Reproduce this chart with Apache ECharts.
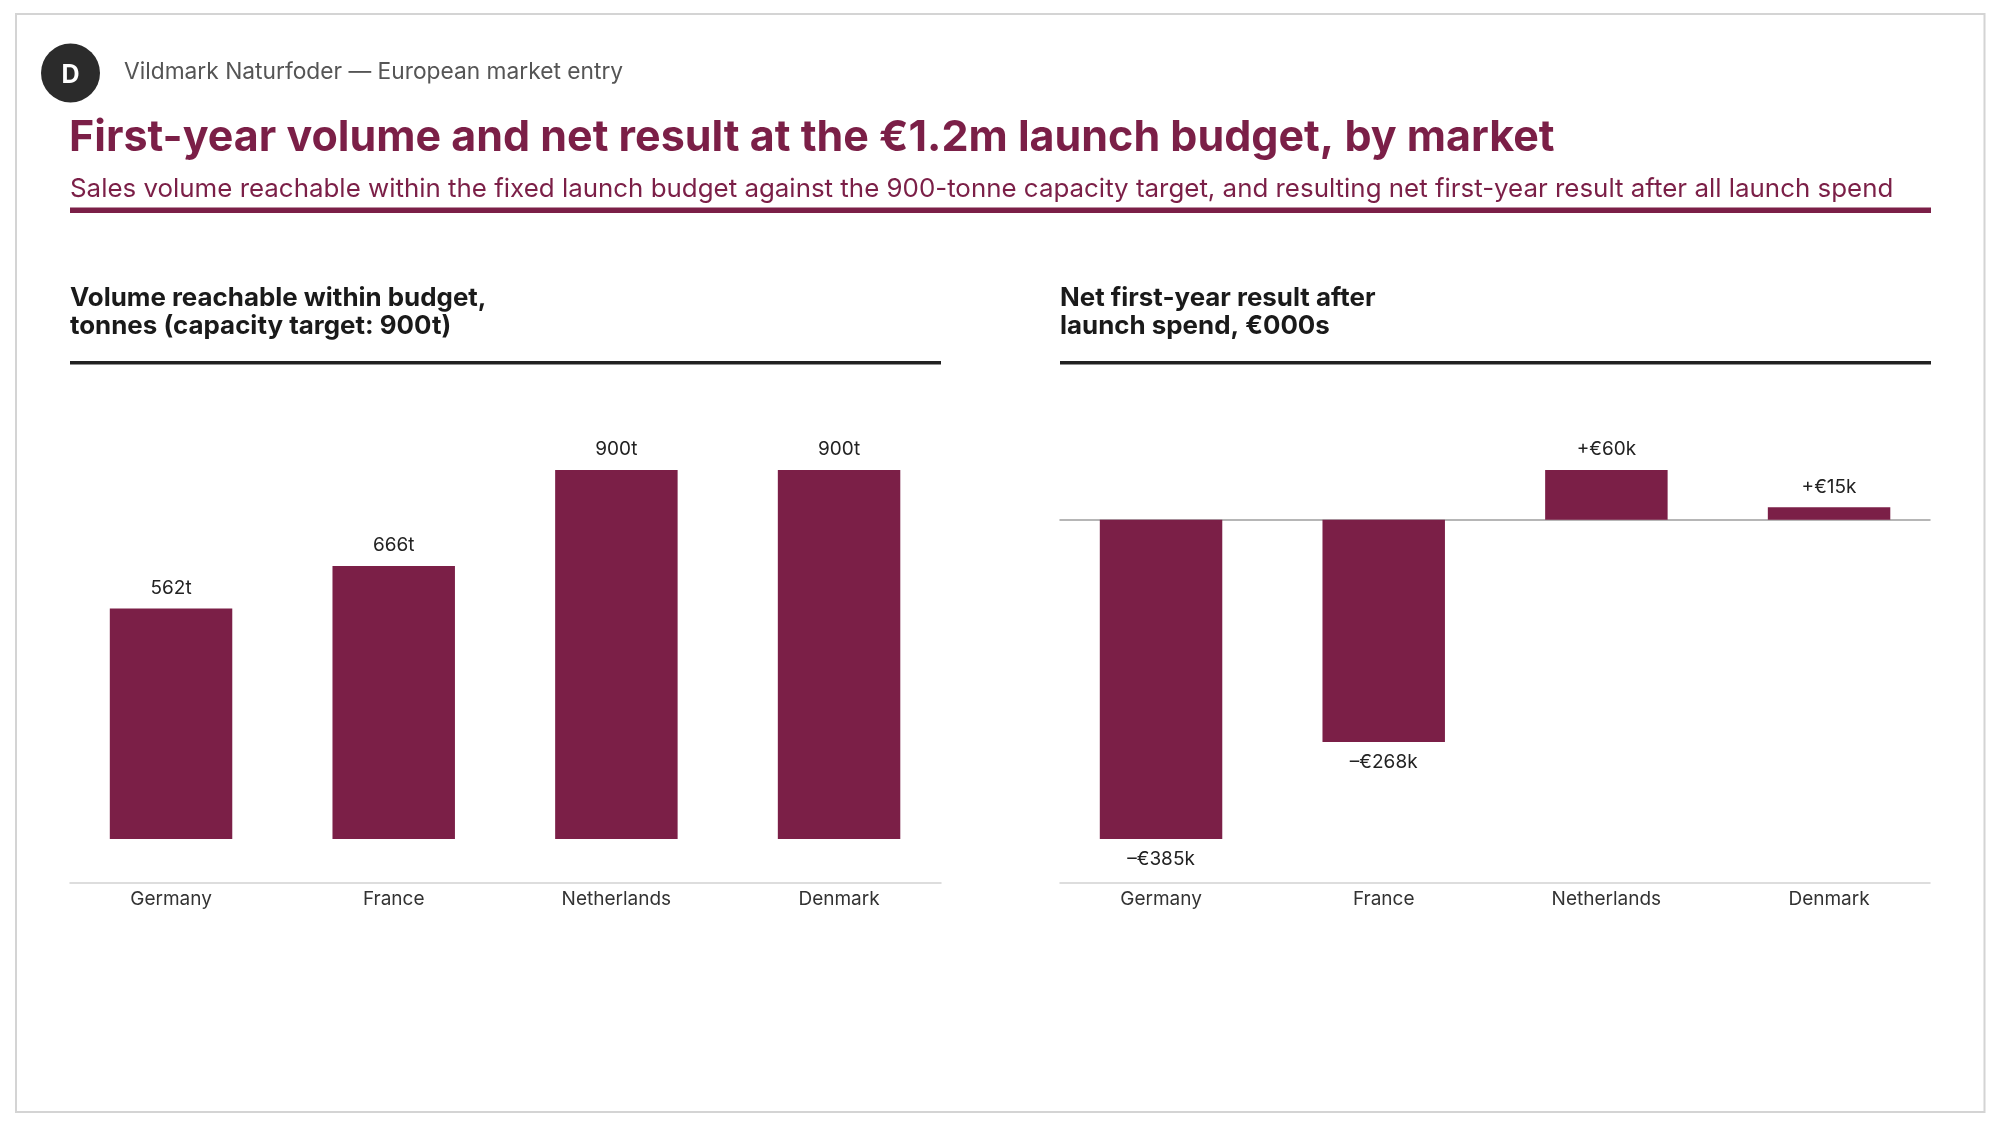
<!DOCTYPE html>
<html><head><meta charset="utf-8">
<script src="https://cdn.jsdelivr.net/npm/echarts@6/dist/echarts.min.js"></script>
<style>html,body{margin:0;padding:0;background:#fff}#c{width:1999px;height:1125px}</style>
</head><body><div id="c"></div>
<script>
const markets = ['Germany', 'France', 'Netherlands', 'Denmark'];
const volumeTonnes = [562, 666, 900, 900];
const netResultK = [-385, -268, 60, 15];

const FONT = 'Inter, "Noto Sans", sans-serif';
const MAROON = '#7b1f47';
const chart = echarts.init(document.getElementById('c'), null, {renderer: 'canvas'});

function fmtEuro(v) {
  return (v < 0 ? '\u2013' : '+') + '\u20ac' + Math.abs(v) + 'k';
}

const gridTop = 470, gridH = 369;
const netMin = Math.min(...netResultK), netMax = Math.max(...netResultK);
const volMax = Math.max(...volumeTonnes);

const labelAxis = (gi) => ({
  type: 'category', gridIndex: gi, data: markets, offset: 44,
  axisLine: {show: false}, axisTick: {show: false}, splitLine: {show: false},
  axisLabel: {fontFamily: FONT, fontSize: 19, color: '#333', margin: 6.5}
});
const lineAxis = (gi) => ({
  type: 'category', gridIndex: gi, data: markets, offset: 44,
  axisLine: {show: true, onZero: false, lineStyle: {color: '#d2d2d2', width: 1.5}},
  axisTick: {show: false}, axisLabel: {show: false}, splitLine: {show: false}
});

const option = {
  backgroundColor: '#ffffff',
  animation: false,
  grid: [
    {left: 59.7, width: 890.7, top: gridTop, height: gridH},
    {left: 1049.7, width: 890.7, top: gridTop, height: gridH},
    {left: 70, width: 871, top: gridTop, height: gridH},
    {left: 1060, width: 870, top: gridTop, height: gridH}
  ],
  xAxis: [
    labelAxis(0),
    labelAxis(1),
    lineAxis(2),
    lineAxis(3),
    {type: 'category', gridIndex: 3, data: markets, position: 'top',
     axisLine: {show: true, onZero: true, lineStyle: {color: '#9e9e9e', width: 1.5}},
     axisTick: {show: false}, axisLabel: {show: false}, splitLine: {show: false}}
  ],
  yAxis: [
    {type: 'value', gridIndex: 0, min: 0, max: volMax, show: false},
    {type: 'value', gridIndex: 1, min: netMin, max: netMax, show: false},
    {type: 'value', gridIndex: 2, min: 0, max: volMax, show: false},
    {type: 'value', gridIndex: 3, min: netMin, max: netMax, show: false}
  ],
  series: [
    {
      type: 'bar', xAxisIndex: 0, yAxisIndex: 0, data: volumeTonnes,
      barWidth: '55%', itemStyle: {color: MAROON},
      label: {show: true, position: 'top', distance: 11, fontFamily: FONT, fontSize: 19, color: '#222',
        formatter: p => p.value + 't'}
    },
    {
      type: 'bar', xAxisIndex: 1, yAxisIndex: 1,
      data: netResultK.map(v => ({value: v, label: {position: v < 0 ? 'bottom' : 'top', distance: v < 0 ? 11 : 11}})),
      barWidth: '55%', itemStyle: {color: MAROON},
      label: {show: true, fontFamily: FONT, fontSize: 19, color: '#222',
        formatter: p => fmtEuro(p.value)}
    }
  ],
  graphic: [
    {type: 'rect', shape: {x: 16, y: 14, width: 1968.5, height: 1098}, style: {fill: 'none', stroke: '#d4d4d4', lineWidth: 2}, silent: true},
    {type: 'circle', shape: {cx: 70.5, cy: 73, r: 29.5}, style: {fill: '#2b2b2b'}},
    {type: 'text', x: 70.5, y: 75, style: {text: 'D', font: 'bold 25px ' + FONT, fill: '#fff', align: 'center', verticalAlign: 'middle'}},
    {type: 'text', x: 124, y: 72, style: {text: 'Vildmark Naturfoder \u2014 European market entry', font: '22.75px ' + FONT, fill: '#555', verticalAlign: 'middle'}},
    {type: 'text', x: 69, y: 138, style: {text: 'First-year volume and net result at the \u20ac1.2m launch budget, by market', font: 'bold 43px ' + FONT, fill: MAROON, verticalAlign: 'middle'}},
    {type: 'text', x: 70, y: 189, style: {text: 'Sales volume reachable within the fixed launch budget against the 900-tonne capacity target, and resulting net first-year result after all launch spend', font: '25.9px ' + FONT, fill: MAROON, verticalAlign: 'middle'}},
    {type: 'rect', shape: {x: 70, y: 207.5, width: 1861, height: 5.5}, style: {fill: MAROON}},
    {type: 'text', x: 70, y: 298.7, style: {text: 'Volume reachable within budget,', font: 'bold 25.9px ' + FONT, fill: '#1a1a1a', verticalAlign: 'middle'}},
    {type: 'text', x: 70, y: 326.3, style: {text: 'tonnes (capacity target: 900t)', font: 'bold 25.9px ' + FONT, fill: '#1a1a1a', verticalAlign: 'middle'}},
    {type: 'rect', shape: {x: 70, y: 361, width: 871, height: 3.5}, style: {fill: '#222'}},
    {type: 'text', x: 1060, y: 298.7, style: {text: 'Net first-year result after', font: 'bold 25.9px ' + FONT, fill: '#1a1a1a', verticalAlign: 'middle'}},
    {type: 'text', x: 1060, y: 326.3, style: {text: 'launch spend, \u20ac000s', font: 'bold 25.9px ' + FONT, fill: '#1a1a1a', verticalAlign: 'middle'}},
    {type: 'rect', shape: {x: 1060, y: 361, width: 871, height: 3.5}, style: {fill: '#222'}}
  ]
};
chart.setOption(option);
</script>
</body></html>
